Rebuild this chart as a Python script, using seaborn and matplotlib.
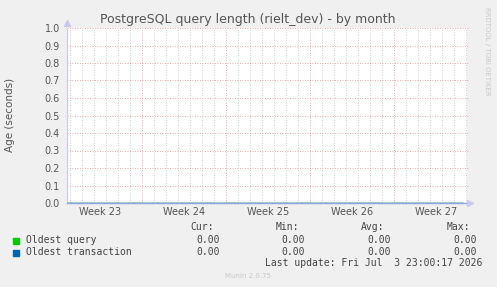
import matplotlib
matplotlib.use("Agg")
import matplotlib.pyplot as plt
import seaborn as sns
import pandas as pd
import numpy as np

# ---- data ----
title = "PostgreSQL query length (rielt_dev) - by month"
y_label = "Age (seconds)"
week_labels = ["Week 23", "Week 24", "Week 25", "Week 26", "Week 27"]
week_centers = [2.75, 9.75, 16.75, 23.75, 30.75]     # day offsets
week_bounds = [6.25, 13.25, 20.25, 27.25]
days = [0, 3, 6, 9, 12, 15, 18, 21, 24, 27, 30, 33.0]
oldest_query = [0.00, 0.00, 0.00, 0.00, 0.00, 0.00, 0.00, 0.00, 0.00, 0.00, 0.00, 0.00]
oldest_transaction = [0.00, 0.00, 0.00, 0.00, 0.00, 0.00, 0.00, 0.00, 0.00, 0.00, 0.00, 0.00]
series_names = ["Oldest query", "Oldest transaction"]
series_colors = ["#00CC00", "#0066B3"]
stats = {  # cur, min, avg, max
    "Oldest query": ["0.00", "0.00", "0.00", "0.00"],
    "Oldest transaction": ["0.00", "0.00", "0.00", "0.00"],
}
last_update = "Last update: Fri Jul  3 23:00:17 2026"
munin_version = "Munin 2.0.75"
rrd_credit = "RRDTOOL / TOBI OETIKER"

sns.set_style("white")
plt.rcParams["font.family"] = ["DejaVu Sans"]

W, H = 497, 287
fig = plt.figure(figsize=(W / 100, H / 100), dpi=100, facecolor="#F0F0F0")
L, R, T, B = 67, 467, 28, 203
ax = fig.add_axes([L / W, 1 - B / H, (R - L) / W, (B - T) / H])
ax.set_facecolor("white")

df = pd.DataFrame({
    "day": days * 2,
    "value": oldest_query + oldest_transaction,
    "series": [series_names[0]] * len(days) + [series_names[1]] * len(days),
})
sns.lineplot(data=df, x="day", y="value", hue="series",
             palette=dict(zip(series_names, series_colors)), ax=ax,
             legend=False, linewidth=1.0, zorder=1.5)

xmax = (R - L) / 12.0
ax.set_xlim(0, xmax)
ax.set_ylim(0, 1.0)

# grid
for d in np.arange(0.25, xmax, 1.0):
    if any(abs(d - wb) < 1e-6 for wb in week_bounds):
        continue
    ax.axvline(d, color="#C0C0C0", lw=0.6, ls=(0, (1, 2)), zorder=1)
for wb in week_bounds:
    ax.axvline(wb, color="#E89090", lw=0.6, ls=(0, (1, 2)), zorder=1.2)
for yv in np.arange(0.1, 1.01, 0.1):
    ax.axhline(yv, color="#E89090", lw=0.6, ls=(0, (1, 2)), zorder=1.2,
               xmax=1.006, clip_on=False)

for s in ["top", "right"]:
    ax.spines[s].set_visible(False)
ax.spines["left"].set_color("#C8C8F0")
ax.spines["bottom"].set_color("#8FA3DD")
ax.spines["left"].set_linewidth(0.8)
ax.spines["bottom"].set_linewidth(1.0)
ax.spines["bottom"].set_zorder(4)

ax.set_yticks(np.arange(0, 1.01, 0.1))
ax.set_yticklabels([f"{v:.1f}" for v in np.arange(0, 1.01, 0.1)],
                   fontsize=7, color="#555555")
ax.set_xticks(week_centers)
ax.set_xticklabels(week_labels, fontsize=7, color="#555555")
ax.tick_params(axis="both", length=0)
ax.tick_params(axis="y", pad=5)
ax.tick_params(axis="x", pad=3)
ax.set_xlabel("")
ax.set_ylabel("")

# arrows
ax.plot([0], [1.03], marker="^", color="#C8C8F0", markersize=4, clip_on=False,
        zorder=6)
ax.plot([xmax + 0.25], [0], marker=">", color="#C8C8F0", markersize=4,
        clip_on=False, zorder=6)


def fx(px):
    return px / W


def fy(py):
    return 1 - py / H


fig.text(fx(248), fy(19), title, fontsize=9, color="#555555",
         ha="center", va="center")
fig.text(fx(10), fy(115), y_label, fontsize=7.5, color="#555555",
         rotation=90, ha="center", va="center")
fig.text(fx(487), fy(7), rrd_credit, fontsize=5, color="#C8C8C8",
         rotation=270, ha="center", va="top")

mono = "DejaVu Sans Mono"
ms = 7.0
tc = "#444444"
hdr_y = 227
for lab, xr in zip(["Cur:", "Min:", "Avg:", "Max:"], [214, 299, 384, 470]):
    fig.text(fx(xr), fy(hdr_y), lab, family=mono, fontsize=ms, color=tc,
             ha="right", va="center")
for i, name in enumerate(series_names):
    yy = 240 + i * 12
    fig.patches.append(plt.Rectangle((fx(13), fy(yy + 3.5)), 6 / W, 6 / H,
                                     transform=fig.transFigure,
                                     color=series_colors[i]))
    fig.text(fx(26), fy(yy), name, family=mono, fontsize=ms, color=tc,
             ha="left", va="center")
    for v, xr in zip(stats[name], [220, 305, 391, 477]):
        fig.text(fx(xr), fy(yy), v, family=mono, fontsize=ms, color=tc,
                 ha="right", va="center")
fig.text(fx(482), fy(263), last_update, family=mono, fontsize=ms, color=tc,
         ha="right", va="center")
fig.text(fx(248), fy(276), munin_version, fontsize=5, color="#C8C8C8",
         ha="center", va="center")

fig.savefig("out.png", dpi=100, facecolor=fig.get_facecolor())
